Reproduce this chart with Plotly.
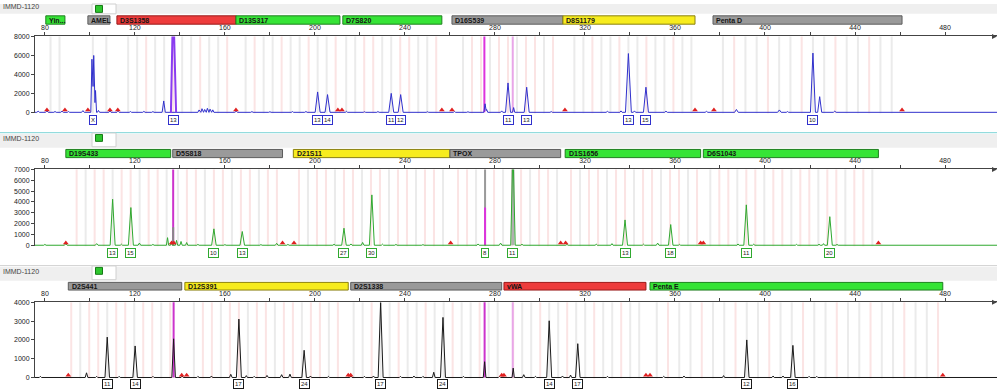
import math
import plotly.graph_objects as go

W, H = 1000, 392
SAMPLE = "IMMD-1120"

# ---------------- data ----------------
X_RANGE = [75.6, 503.1]
X_TICK_VALS = [80, 100, 120, 140, 160, 180, 200, 220, 240, 260, 280, 300,
               320, 340, 360, 380, 400, 420, 440, 460, 480]
X_TICK_TEXT = ["80", "", "120", "", "160", "", "200", "", "240", "", "280", "",
               "320", "", "360", "", "400", "", "440", "", "480"]
Y_TICKS_1 = [0, 2000, 4000, 6000, 8000]
Y_TICKS_2 = [0, 1000, 2000, 3000, 4000, 5000, 6000, 7000]
Y_TICKS_3 = [0, 1000, 2000, 3000, 4000]
Y_TOP = [8000, 7000, 4000]

# loci: (name, start bp, end bp, colour, anchor allele bp, repeat bp, bin colour cycle)
LOCI_1 = [
    ("Yin...", 80.4, 88.9, "green", 82.5, 4, "g"),
    ("AMEL", 99.1, 108.9, "gray", 101.3, 6, "g"),
    ("D3S1358", 112.0, 164.9, "red", 137.0, 4, "ggp"),
    ("D13S317", 164.9, 211.1, "green", 201.2, 4, "gpg"),
    ("D7S820", 212.4, 256.4, "green", 233.9, 4, "ggpp"),
    ("D16S539", 260.9, 310.2, "gray", 285.8, 4, "gpp"),
    ("D8S1179", 310.2, 368.9, "yellow", 339.3, 4, "ggp"),
    ("Penta D", 376.9, 460.9, "gray", 421.3, 5, "gpg"),
]
LOCI_2 = [
    ("D19S433", 89.3, 135.9, "green", 110.1, 4, "pgp"),
    ("D5S818", 136.8, 185.6, "gray", 155.1, 4, "gpp"),
    ("D21S11", 190.4, 260.0, "yellow", 212.9, 4, "pgp"),
    ("TPOX", 260.0, 309.2, "gray", 275.6, 4, "ppg"),
    ("D1S1656", 311.2, 371.4, "green", 337.8, 4, "pgp"),
    ("D6S1043", 372.6, 450.4, "green", 391.7, 4, "gpp"),
]
LOCI_3 = [
    ("D2S441", 90.4, 140.8, "gray", 107.7, 4, "pgp"),
    ("D12S391", 142.2, 214.8, "yellow", 166.2, 4, "gpp"),
    ("D2S1338", 215.9, 283.0, "gray", 229.2, 4, "ggp"),
    ("vWA", 284.0, 347.1, "red", 304.1, 4, "pgg"),
    ("Penta E", 348.9, 479.0, "green", 391.9, 5, "gpg"),
]

# peaks: (size bp, height RFU, half width bp)
PEAKS_1 = [
    (77.0, 120, 0.6), (80.9, 150, 0.6), (84.5, 90, 0.5), (87.6, 120, 0.6), (90.5, 80, 0.5),
    (96.9, 180, 0.6), (100.9, 5600, 0.5), (101.7, 6000, 0.55), (102.5, 2300, 0.45),
    (103.8, 200, 0.5), (108.9, 150, 0.5), (112.5, 120, 0.5), (118.0, 80, 0.5),
    (124.0, 100, 0.5), (128.0, 80, 0.5), (132.8, 1200, 0.7),
    (148.5, 250, 0.5), (149.8, 380, 0.5), (151.0, 300, 0.5), (152.2, 420, 0.5),
    (153.4, 330, 0.5), (154.6, 260, 0.5), (165.0, 120, 0.6), (172.0, 80, 0.5),
    (180.0, 60, 0.5), (190.0, 80, 0.5), (196.0, 90, 0.5),
    (201.2, 2150, 1.1), (205.6, 1870, 1.1), (214.0, 100, 0.5), (222.0, 60, 0.5),
    (228.0, 80, 0.5), (233.9, 2000, 1.1), (238.1, 1870, 1.1), (250.0, 60, 0.5),
    (262.0, 80, 0.5), (268.0, 60, 0.5), (275.6, 900, 0.5), (276.3, 300, 0.5),
    (283.0, 150, 0.5), (285.8, 3100, 1.1), (288.3, 500, 0.5), (294.1, 2650, 1.1),
    (305.0, 80, 0.5), (318.0, 60, 0.5), (330.0, 100, 0.6), (336.0, 150, 0.5),
    (339.3, 6200, 1.3), (342.0, 150, 0.5), (347.1, 2650, 1.1), (356.0, 120, 0.6),
    (374.0, 100, 0.6), (387.3, 300, 0.8), (406.4, 250, 0.8), (410.0, 80, 0.5),
    (421.3, 6250, 1.1), (424.3, 1650, 0.9), (431.0, 120, 0.6),
]
SATURATED_1 = [(137.0, 12000, 1.0)]
PEAKS_2 = [
    (80.0, 80, 0.5), (89.3, 150, 0.6), (95.0, 60, 0.5), (103.0, 150, 0.6),
    (110.1, 4250, 1.1), (114.0, 100, 0.5), (118.2, 3480, 1.1), (122.0, 200, 0.6),
    (128.0, 80, 0.5), (134.5, 700, 0.5), (136.2, 300, 0.4), (138.5, 450, 0.5),
    (140.5, 350, 0.5), (143.0, 250, 0.5), (148.0, 80, 0.5), (155.1, 1515, 1.0),
    (160.0, 60, 0.5), (167.7, 1270, 1.0), (176.0, 60, 0.5), (183.0, 180, 0.6),
    (188.0, 80, 0.5), (200.0, 60, 0.5), (208.5, 100, 0.5), (212.9, 1575, 1.0),
    (216.0, 120, 0.5), (221.2, 260, 0.6), (225.3, 4650, 1.1), (230.0, 100, 0.5),
    (236.0, 80, 0.5), (248.0, 60, 0.5), (266.0, 60, 0.5), (272.5, 120, 0.5),
    (282.5, 200, 0.6), (288.0, 9000, 1.0), (292.0, 100, 0.5), (300.0, 60, 0.5),
    (312.0, 80, 0.5), (325.0, 100, 0.5), (332.0, 150, 0.5), (337.8, 2340, 1.1),
    (346.0, 100, 0.5), (352.3, 200, 0.6), (358.1, 1910, 1.0), (362.0, 80, 0.5),
    (375.0, 60, 0.5), (388.0, 120, 0.5), (391.7, 3730, 1.1), (395.0, 100, 0.5),
    (414.0, 80, 0.5), (424.0, 100, 0.5), (426.0, 150, 0.5), (428.8, 2640, 1.1),
    (432.0, 80, 0.5), (445.0, 60, 0.5),
]
PEAKS_3 = [
    (78.0, 60, 0.5), (98.5, 250, 0.6), (103.0, 60, 0.5), (107.7, 2150, 1.0),
    (113.0, 60, 0.5), (120.1, 1680, 1.0), (128.0, 60, 0.5), (137.2, 2060, 0.8),
    (141.0, 80, 0.5), (148.0, 60, 0.5), (154.0, 80, 0.5), (162.6, 170, 0.6),
    (166.2, 3110, 1.1), (169.5, 100, 0.5), (173.0, 60, 0.5), (178.7, 110, 0.6),
    (185.2, 150, 0.6), (188.9, 180, 0.6), (195.2, 1450, 1.0), (198.0, 80, 0.5),
    (206.0, 60, 0.5), (216.0, 80, 0.5), (222.0, 60, 0.5), (226.0, 80, 0.5),
    (229.2, 3990, 1.1), (238.0, 60, 0.5), (244.0, 80, 0.5), (248.0, 60, 0.5),
    (252.8, 280, 0.6), (256.9, 3200, 1.1), (266.0, 60, 0.5), (275.4, 840, 0.6),
    (282.0, 60, 0.5), (288.1, 500, 0.5), (292.8, 150, 0.6), (298.0, 60, 0.5),
    (304.1, 3020, 1.1), (310.0, 80, 0.5), (313.6, 130, 0.5), (316.8, 1800, 1.0),
    (330.0, 60, 0.5), (355.0, 60, 0.5), (364.0, 80, 0.5), (381.6, 100, 0.5),
    (391.9, 2000, 1.0), (403.6, 80, 0.5), (408.0, 80, 0.5), (412.4, 1710, 1.0),
    (419.6, 60, 0.5), (423.0, 60, 0.5),
]

# vertical overlay lines: (size bp, top RFU, colour, width)
OVERLAY_1 = [(275.3, 1e6, "#dd33dd", 2), (287.9, 1e6, "#e8a6e8", 2)]
OVERLAY_2 = [(137.0, 1e6, "#cc33cc", 2), (137.0, 1660, "#888888", 2),
             (275.6, 1e6, "#9a9a9a", 2), (275.6, 3480, "#dd33dd", 2),
             (288.0, 1e6, "#b0b0b0", 3)]
OVERLAY_3 = [(137.2, 1e6, "#cc33cc", 2), (275.4, 1e6, "#cc33cc", 2),
             (287.9, 1e6, "#e8a6e8", 2)]

# allele calls: (size bp, label)
ALLELES_1 = [(101.3, "X"), (137.0, "13"), (201.2, "13"), (205.6, "14"), (233.9, "11"),
             (238.1, "12"), (285.8, "11"), (294.1, "13"), (339.3, "13"), (347.1, "15"),
             (421.3, "10")]
ALLELES_2 = [(110.1, "13"), (118.2, "15"), (155.1, "10"), (167.7, "13"), (212.9, "27"),
             (225.3, "30"), (275.6, "8"), (288.0, "11"), (337.8, "13"), (358.1, "18"),
             (391.7, "11"), (428.8, "20")]
ALLELES_3 = [(107.7, "11"), (120.1, "14"), (166.2, "17"), (195.2, "24"), (229.2, "17"),
             (256.9, "24"), (304.1, "14"), (316.8, "17"), (391.9, "12"), (412.4, "16")]

# red edge markers (size bp)
MARKS_1 = [80.9, 88.9, 99.1, 108.9, 112.4, 164.9, 210.2, 212.0, 256.4, 260.9,
           311.1, 368.9, 377.3, 460.9]
MARKS_2 = [89.3, 136.3, 137.3, 185.6, 190.7, 260.3, 309.2, 311.4, 371.4, 372.6, 450.4]
MARKS_3 = [90.4, 140.8, 143.0, 214.8, 215.9, 283.0, 284.0, 347.1, 348.9, 479.0]

# ---------------- style / geometry ----------------
TRACE_COL = ["#3030cc", "#2fa82f", "#1a1a1a"]
LOCUS_FILL = {"green": "#36e436", "gray": "#9a9a9a", "red": "#ee3c3c", "yellow": "#f7ec1e"}
LOCUS_EDGE = {"green": "#1f7f1f", "gray": "#5c5c5c", "red": "#9a1a1a", "yellow": "#8a8010"}
BIN_COL = {"g": "#ebebeb", "p": "#fbe4e4"}
FONT = "Liberation Sans, Arial, sans-serif"
TICK_COL = "#222222"

PLOT_PX = [(33, 110), (168, 245), (303, 379.3)]       # (top px, zero px)
BAR_PX = [(12, 20.5), (147.7, 156), (282.7, 290.5)]
LABEL_PX = [117.3, 252.7, 386.0]
BAND_PX = [(0, 10), (132, 146), (267, 281)]
SEP_PX = [None, (130.7, "#7ad3d6"), (265.7, "#cfcfcf")]
TEXT_PX = [3, 137, 272]
ICON_PX = [(0, 10), (131, 145), (266, 280)]
X_DOM = [35 / W, 997 / W]


def py(p):
    return 1 - p / H


def px(p):
    return p / W


def trace_xy(peaks, x0, x1):
    xs = {x0, x1}
    for p, h, w in peaks:
        xs.update([p - w, p, p + w])
    xs = sorted(x for x in xs if x0 <= x <= x1)
    ys = [sum(max(0.0, h * (1 - abs(x - p) / w)) for p, h, w in peaks) for x in xs]
    return xs, ys


fig = go.Figure()
shapes = []
annotations = []

panels = [
    (LOCI_1, PEAKS_1, OVERLAY_1, ALLELES_1, MARKS_1, Y_TICKS_1),
    (LOCI_2, PEAKS_2, OVERLAY_2, ALLELES_2, MARKS_2, Y_TICKS_2),
    (LOCI_3, PEAKS_3, OVERLAY_3, ALLELES_3, MARKS_3, Y_TICKS_3),
]

for i, (loci, peaks, overlay, alleles, marks, yticks) in enumerate(panels):
    n = i + 1
    xa = "x" if n == 1 else f"x{n}"
    ya = "y" if n == 1 else f"y{n}"
    top_px, zero_px = PLOT_PX[i]
    ytop = Y_TOP[i]
    per_px = ytop / (zero_px - top_px)
    ymin = -per_px * 1.0
    dom = [py(zero_px + 1.0), py(top_px)]

    fig.layout[f"xaxis{'' if n == 1 else n}"] = dict(
        domain=X_DOM, range=X_RANGE, anchor=ya, side="top", showline=True,
        linecolor="#444", linewidth=1, ticks="outside", ticklen=3, tickcolor="#444",
        tickvals=X_TICK_VALS, ticktext=X_TICK_TEXT,
        tickfont=dict(size=7, color=TICK_COL, family=FONT),
        showgrid=False, zeroline=False, fixedrange=True)
    fig.layout[f"yaxis{'' if n == 1 else n}"] = dict(
        domain=dom, range=[ymin, ytop], anchor=xa, showline=True, linecolor="#444",
        linewidth=1, ticks="outside", ticklen=3, tickcolor="#444", tickvals=yticks,
        tickfont=dict(size=7, color=TICK_COL, family=FONT), showgrid=False, zeroline=False,
        fixedrange=True)

    # header
    b0, b1 = BAND_PX[i]
    shapes.append(dict(type="rect", xref="paper", yref="paper", x0=0, x1=px(997),
                       y0=py(b1), y1=py(b0), fillcolor="#efefef", line=dict(width=0), layer="below"))
    if SEP_PX[i]:
        sp, sc = SEP_PX[i]
        shapes.append(dict(type="line", xref="paper", yref="paper", x0=0, x1=px(997),
                           y0=py(sp), y1=py(sp), line=dict(color=sc, width=1)))
    i0, i1 = ICON_PX[i]
    shapes.append(dict(type="rect", xref="paper", yref="paper", x0=px(92), x1=px(116),
                       y0=py(i1), y1=py(i0), fillcolor="#ffffff", line=dict(color="#d0d0d0", width=1)))
    shapes.append(dict(type="rect", xref="paper", yref="paper", x0=px(95.5), x1=px(102.5),
                       y0=py(i0 + 8.5), y1=py(i0 + 1.5), fillcolor="#2ec62e",
                       line=dict(color="#167a16", width=1)))
    annotations.append(dict(text=SAMPLE, xref="paper", yref="paper", x=px(1), y=py(TEXT_PX[i]),
                            xanchor="left", yanchor="middle", showarrow=False,
                            font=dict(size=7, color="#444", family=FONT)))

    # locus bars and bins
    bt, bb = BAR_PX[i]
    for name, s, e, col, anchor, rep, pat in loci:
        shapes.append(dict(type="rect", xref=xa, yref="paper", x0=s, x1=e, y0=py(bb), y1=py(bt),
                           fillcolor=LOCUS_FILL[col], line=dict(color=LOCUS_EDGE[col], width=1)))
        annotations.append(dict(text=f"<b>{name}</b>", xref=xa, yref="paper", x=s + 0.6,
                                y=py((bt + bb) / 2), xanchor="left", yanchor="middle",
                                showarrow=False, font=dict(size=7, color="#151515", family=FONT)))
        kmin = math.ceil((s + 1.2 - anchor) / rep)
        kmax = math.floor((e - 1.2 - anchor) / rep)
        for k in range(kmin, kmax + 1):
            pos = anchor + k * rep
            c = BIN_COL[pat[(k - kmin) % len(pat)]]
            shapes.append(dict(type="rect", xref=xa, yref=f"{ya} domain", x0=pos - 0.45,
                               x1=pos + 0.45, y0=0, y1=1, fillcolor=c, line=dict(width=0),
                               layer="below"))

    # overlay vertical lines
    for pos, top, col, wdt in overlay:
        fig.add_trace(go.Scatter(x=[pos, pos], y=[0, top], mode="lines", xaxis=xa, yaxis=ya,
                                 line=dict(color=col, width=wdt), hoverinfo="skip", showlegend=False))

    # trace
    tx, ty = trace_xy(peaks, X_RANGE[0], X_RANGE[1])
    fig.add_trace(go.Scatter(x=tx, y=ty, mode="lines", xaxis=xa, yaxis=ya,
                             line=dict(color=TRACE_COL[i], width=1), hoverinfo="skip",
                             showlegend=False))
    if n == 1:
        for p, h, w in SATURATED_1:
            sx, sy = trace_xy([(p, h, w)], p - w - 0.3, p + w + 0.3)
            fig.add_trace(go.Scatter(x=sx, y=sy, mode="lines", xaxis=xa, yaxis=ya,
                                     line=dict(color="#8a3cf0", width=2), hoverinfo="skip",
                                     showlegend=False))

    # red markers
    fig.add_trace(go.Scatter(x=marks, y=[ytop * 0.03] * len(marks), mode="markers",
                             xaxis=xa, yaxis=ya, cliponaxis=False,
                             marker=dict(symbol="triangle-up", size=5, color="#e02020"),
                             hoverinfo="skip", showlegend=False))

    # allele labels
    for pos, lab in alleles:
        annotations.append(dict(text=lab, xref=xa, yref="paper", x=pos, y=py(LABEL_PX[i]),
                                xanchor="center", yanchor="middle", showarrow=False,
                                bgcolor="#ffffff", bordercolor=TRACE_COL[i], borderwidth=1,
                                borderpad=1, font=dict(size=6, color="#222", family=FONT)))

    # axis arrow
    annotations.append(dict(text="", xref=xa, yref=f"{ya} domain", x=X_RANGE[1], y=1,
                            ax=-5, ay=0, showarrow=True, arrowhead=2, arrowsize=1,
                            arrowwidth=1, arrowcolor="#444"))

fig.update_layout(width=W, height=H, margin=dict(l=0, r=0, t=0, b=0),
                  paper_bgcolor="#ffffff", plot_bgcolor="#ffffff",
                  shapes=shapes, annotations=annotations, showlegend=False,
                  font=dict(family=FONT), hovermode=False)
fig.write_html("out.html", config={"displayModeBar": False, "staticPlot": True},
               post_script="document.body.style.margin='0';document.body.style.overflow='hidden';")
